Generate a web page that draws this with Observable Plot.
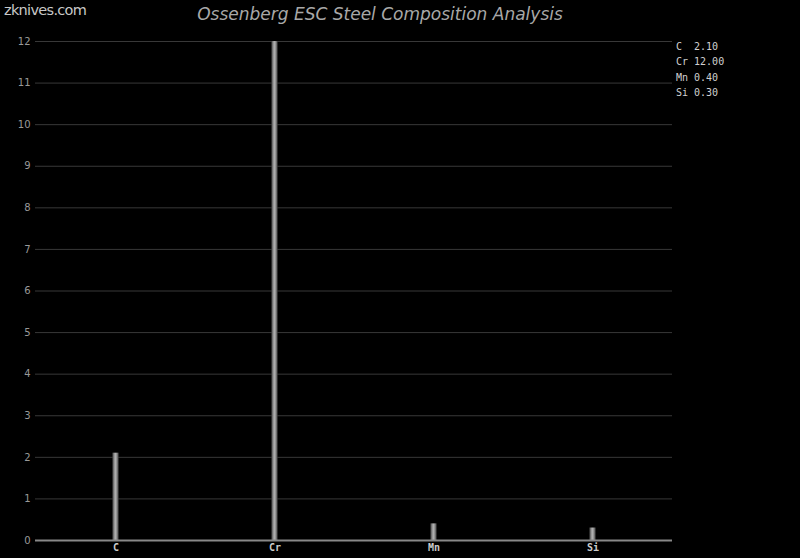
<!DOCTYPE html>
<html>
<head>
<meta charset="utf-8">
<script src="https://cdn.jsdelivr.net/npm/d3@7"></script>
<script src="https://cdn.jsdelivr.net/npm/@observablehq/plot@0.6"></script>
<style>
  html, body { margin: 0; padding: 0; background: #000; }
  #wrap { position: relative; width: 800px; height: 558px; overflow: hidden; background: #000; }
  #site { position: absolute; left: 4px; top: 2px; font: 14.5px "DejaVu Sans", sans-serif; letter-spacing: -0.7px; color: #c8c8c8; }
  #title { position: absolute; left: 0; width: 760px; top: 4px; text-align: center; font: italic 17px "DejaVu Sans", sans-serif; color: #a8a8a8; }
  #legend { position: absolute; left: 676px; top: 39px; font: 10px "DejaVu Sans Mono", monospace; color: #d0d0d0; line-height: 15.3px; white-space: pre; }
</style>
</head>
<body>
<div id="wrap">
  <div id="chart"></div>
  <div id="site">zknives.com</div>
  <div id="title">Ossenberg ESC Steel Composition Analysis</div>
  <div id="legend"></div>
</div>
<script>
const elements = ["C", "Cr", "Mn", "Si"];
const percents = [2.10, 12.00, 0.40, 0.30];
const yTicks = [0, 1, 2, 3, 4, 5, 6, 7, 8, 9, 10, 11, 12];

const data = elements.map((e, i) => ({element: e, value: percents[i]}));

const chart = Plot.plot({
  width: 800,
  height: 558,
  marginLeft: 35,
  marginRight: 128,
  marginTop: 41,
  marginBottom: 18,
  style: {background: "#000", color: "#999", fontFamily: "DejaVu Sans, sans-serif", fontSize: "10px"},
  x: {domain: elements, padding: 0, label: null, tickSize: 0, tickPadding: 3},
  y: {domain: [0, 12], ticks: yTicks, label: null, tickSize: 0, tickPadding: 5, tickFormat: d3.format("d")},
  marks: [
    Plot.gridY(yTicks.filter(d => d > 0), {stroke: "#383838", strokeOpacity: 1, strokeWidth: 1}),
    Plot.barY(data, {x: "element", y: "value", fill: "url(#barGrad)", insetLeft: 76.4, insetRight: 76.4}),
    Plot.ruleX([0], {frameAnchor: "left", stroke: "#888", strokeWidth: 1.5, insetTop: -4}),
    Plot.ruleY([0], {stroke: "#888", strokeWidth: 2})
  ]
});

// gradient definition for bars
const svg = d3.select(chart);
const grad = svg.insert("defs", ":first-child").append("linearGradient")
  .attr("id", "barGrad").attr("x1", "0").attr("x2", "1").attr("y1", "0").attr("y2", "0");
grad.append("stop").attr("offset", "0%").attr("stop-color", "#444");
grad.append("stop").attr("offset", "45%").attr("stop-color", "#b4b4b4");
grad.append("stop").attr("offset", "65%").attr("stop-color", "#999");
grad.append("stop").attr("offset", "100%").attr("stop-color", "#444");

// x axis labels styled monospace
svg.selectAll("g[aria-label='x-axis tick label'] text")
  .style("font-family", "DejaVu Sans Mono, monospace")
  .style("font-weight", "bold")
  .style("fill", "#ccc");

document.getElementById("chart").appendChild(chart);

// legend text
const maxLen = d3.max(elements, e => e.length);
document.getElementById("legend").textContent = elements
  .map((e, i) => e.padEnd(maxLen + 1, " ") + percents[i].toFixed(2).padStart(5, " ").replace(/^ (?=\d\.)/, ""))
  .join("\n");
</script>
</body>
</html>
